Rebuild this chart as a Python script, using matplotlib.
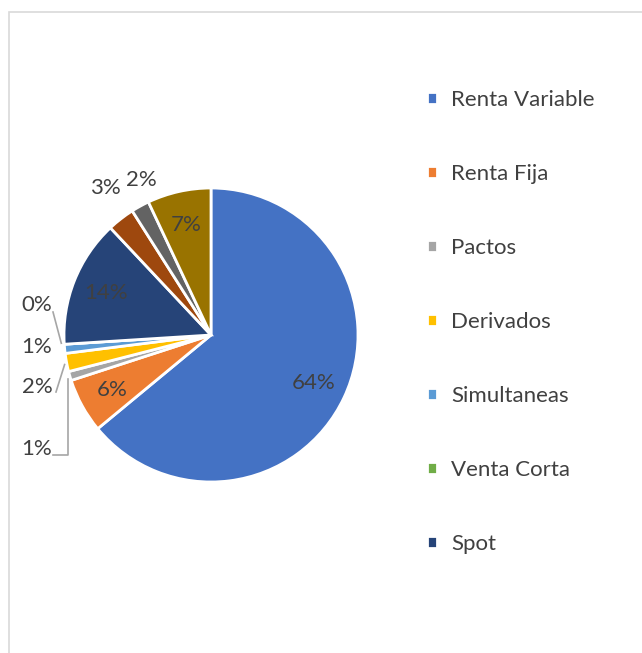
import numpy as np
import matplotlib
matplotlib.use("Agg")
import matplotlib.pyplot as plt
from matplotlib.patches import Rectangle

# data
categories = ["Renta Variable", "Renta Fija", "Pactos", "Derivados", "Simultaneas",
              "Venta Corta", "Spot", "Otros 1", "Otros 2", "Otros 3"]
shares = [64, 6, 1, 2, 1, 0, 14, 3, 2, 7]
pct_labels = ["64%", "6%", "1%", "2%", "1%", "0%", "14%", "3%", "2%", "7%"]
colors = ["#4472C4", "#ED7D31", "#A5A5A5", "#FFC000", "#5B9BD5",
          "#70AD47", "#264478", "#9E480E", "#636363", "#997300"]
n_legend = 7  # the rest of the legend is cut off in the original

W, H = 642, 653
FS = 16
fig = plt.figure(figsize=(W / 100, H / 100), dpi=100)
ax = fig.add_axes([0, 0, 1, 1])

cx, cy, R = 211, H - 335, 147
wedges, _ = ax.pie(shares, colors=colors, startangle=90, counterclock=False,
                   center=(cx, cy), radius=R,
                   wedgeprops=dict(edgecolor="white", linewidth=2.0))
ax.set_xlim(0, W)
ax.set_ylim(0, H)
ax.set_aspect("equal")
ax.axis("off")

txt_kw = dict(fontsize=FS, color="#404040", family=["Lato", "DejaVu Sans"],
              ha="center", va="center")

def on_ring(w, f):
    a = np.deg2rad((w.theta1 + w.theta2) / 2)
    return cx + f * R * np.cos(a), cy + f * R * np.sin(a)

# labels inside the bigger slices
for i in [0, 1, 6, 9]:
    x, y = on_ring(wedges[i], 0.77)
    ax.text(x, y, pct_labels[i], **txt_kw)

# outside labels, placed the way the original lays them out (pixels)
out_pos = {7: (105, H - 188), 8: (141, H - 180),
           5: (37, H - 305), 4: (37, H - 347), 3: (37, H - 387), 2: (37, H - 449)}
for i, (lx, ly) in out_pos.items():
    ax.text(lx, ly, pct_labels[i], **txt_kw)
    px, py = on_ring(wedges[i], 1.0)
    if i == 5:
        ax.plot([lx + 16, px - 3], [ly - 7, py + 1], color="#A6A6A6", lw=1.2)
    elif i == 3:
        ax.plot([lx + 19, px - 2], [ly - 5, py - 2], color="#A6A6A6", lw=1.2)
    elif i == 2:
        ax.plot([lx + 16, px - 2, px - 2], [ly - 6, ly - 6, py - 3],
                color="#A6A6A6", lw=1.2)

fig.legend(wedges[:n_legend], categories[:n_legend], loc="upper left",
           bbox_to_anchor=(407 / W, 1 - 70 / H), frameon=False,
           prop=dict(family=["Lato", "DejaVu Sans"], size=FS),
           labelcolor="#404040", handlelength=0.45, handleheight=0.45,
           handletextpad=0.65, labelspacing=2.43)

# chart border (only top and left edges are visible)
ax.add_patch(Rectangle((8.5, -20), W + 40, H - 11.5 + 20, fill=False,
                       edgecolor="#D9D9D9", lw=1.2, clip_on=False))

fig.savefig("out.png", dpi=100)
